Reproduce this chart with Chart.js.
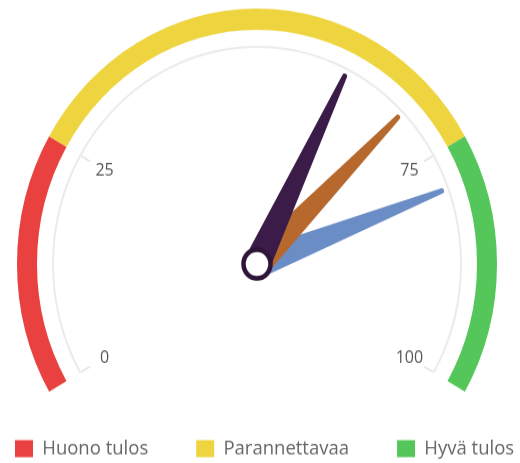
<!DOCTYPE html>
<html>
<head>
<meta charset="utf-8">
<script src="https://cdn.jsdelivr.net/npm/chart.js@4"></script>
<style>
  html, body { margin: 0; padding: 0; background: #fff; overflow: hidden; }
  #gauge { display: block; margin-left: -3px; }
</style>
</head>
<body>
<!-- the reference is slightly taller than wide, so the canvas is stretched a bit -->
<canvas id="gauge" width="520" height="435" style="width:520px;height:463px"></canvas>
<script>
// gauge data
var gaugeMin = 0;
var gaugeMax = 100;
var bandLabels = ['Huono tulos', 'Parannettavaa', 'Hyvä tulos'];
var bandValues = [25, 50, 25];
var tickValues = [0, 25, 75, 100];
var tickLabels = ['0', '25', '75', '100'];
var needleValues = [61, 69, 79];

var bandColors = ['#e8413f', '#eed43f', '#55c65a'];
var needleColors = ['#3b1b47', '#b6682d', '#6a8dc6'];

// draws tick marks, tick labels, needles and the hub on top of the rings
const gaugePlugin = {
    id: 'gaugeNeedles',
    afterDatasetsDraw(chart) {
        const ring = chart.getDatasetMeta(2).data[0];
        const p = ring.getProps(['x', 'y', 'startAngle', 'endAngle', 'innerRadius'], true);
        const ctx = chart.ctx;
        const angleOf = function (v) {
            return p.startAngle + (p.endAngle - p.startAngle) * (v - gaugeMin) / (gaugeMax - gaugeMin);
        };

        ctx.save();
        ctx.strokeStyle = '#e4e4e4';
        ctx.lineWidth = 1.5;
        ctx.font = '16px "Open Sans"';
        ctx.fillStyle = '#555';
        ctx.textAlign = 'center';
        ctx.textBaseline = 'middle';
        tickValues.forEach(function (v, i) {
            const a = angleOf(v);
            const c = Math.cos(a), s = Math.sin(a);
            ctx.beginPath();
            ctx.moveTo(p.x + c * p.innerRadius, p.y + s * p.innerRadius);
            ctx.lineTo(p.x + c * (p.innerRadius - 10), p.y + s * (p.innerRadius - 10));
            ctx.stroke();
            ctx.fillText(tickLabels[i], p.x + c * (p.innerRadius - 27), p.y + s * (p.innerRadius - 27));
        });
        ctx.restore();

        const len = p.innerRadius - 6;
        for (let i = needleValues.length - 1; i >= 0; i--) {
            ctx.save();
            ctx.translate(p.x, p.y);
            ctx.rotate(angleOf(needleValues[i]));
            ctx.beginPath();
            ctx.moveTo(0, -13.5);
            ctx.lineTo(len, -2.5);
            ctx.arc(len, 0, 2.5, -Math.PI / 2, Math.PI / 2);
            ctx.lineTo(0, 13.5);
            ctx.arc(0, 0, 13.5, Math.PI / 2, Math.PI * 1.5);
            ctx.closePath();
            ctx.fillStyle = needleColors[i];
            ctx.fill();
            ctx.restore();
        }

        ctx.save();
        ctx.beginPath();
        ctx.arc(p.x, p.y, 13.5, 0, Math.PI * 2);
        ctx.fillStyle = '#fff';
        ctx.fill();
        ctx.lineWidth = 4.5;
        ctx.strokeStyle = '#2e1538';
        ctx.stroke();
        ctx.restore();
    }
};

const gaugeChart = new Chart(document.getElementById('gauge'), {
    type: 'doughnut',
    data: {
        labels: bandLabels,
        datasets: [
            {
                data: bandValues,
                backgroundColor: bandColors,
                borderWidth: 0,
                weight: 20,
            },
            {
                // empty space between the colour band and the thin arc
                data: [gaugeMax - gaugeMin],
                backgroundColor: 'rgba(0,0,0,0)',
                borderWidth: 0,
                weight: 15,
            },
            {
                data: [gaugeMax - gaugeMin],
                backgroundColor: '#ebebeb',
                borderWidth: 0,
                weight: 2,
            },
        ],
    },
    options: {
        responsive: false,
        animation: false,
        events: [],
        rotation: -120,
        circumference: 240,
        radius: 240,
        cutout: '84.58%',
        layout: {
            // negative sides only widen the legend row, the chart area stays inside the canvas
            padding: { top: 11.65, bottom: -5.85, left: -30, right: -60 }
        },
        plugins: {
            tooltip: { enabled: false },
            legend: {
                position: 'bottom',
                align: 'start',
                labels: {
                    boxWidth: 18,
                    boxHeight: 16,
                    padding: 48,
                    color: '#666',
                    font: { family: '"Open Sans"', size: 18.5 }
                }
            }
        }
    },
    plugins: [gaugePlugin]
});
</script>
</body>
</html>
